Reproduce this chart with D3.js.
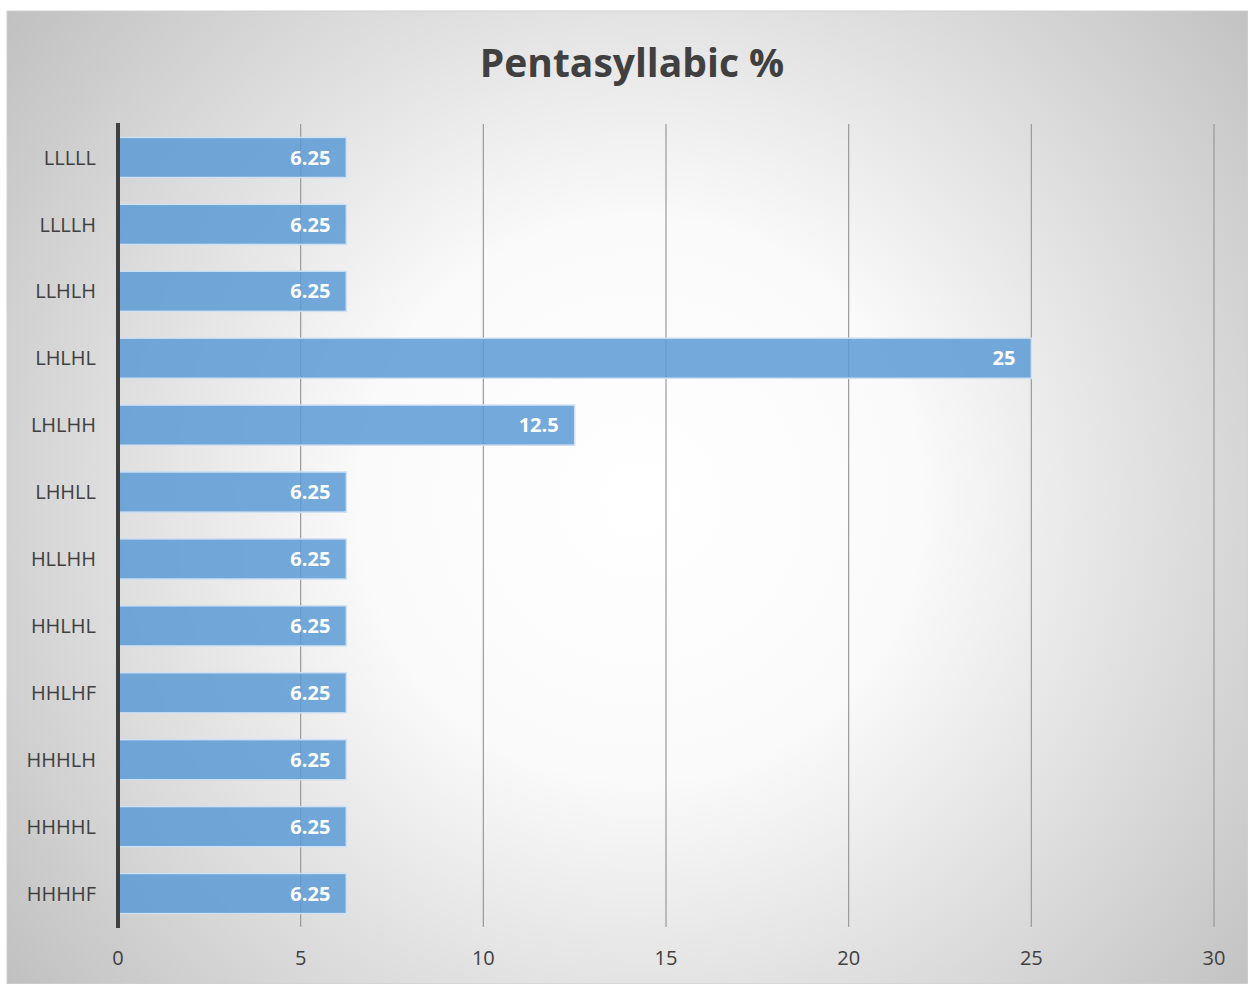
<!DOCTYPE html>
<html><head><meta charset="utf-8">
<script src="https://cdn.jsdelivr.net/npm/d3@7"></script>
<style>body{margin:0;background:#fff}svg{display:block}</style>
</head><body>
<script>
const categories = ["LLLLL","LLLLH","LLHLH","LHLHL","LHLHH","LHHLL","HLLHH","HHLHL","HHLHF","HHHLH","HHHHL","HHHHF"];
const values = [6.25,6.25,6.25,25,12.5,6.25,6.25,6.25,6.25,6.25,6.25,6.25];
const xTicks = [0,5,10,15,20,25,30];
const chartTitle = "Pentasyllabic %";

(function(){
const W = 1248, H = 984;
const svg = d3.select("body").append("svg").attr("width", W).attr("height", H);
const defs = svg.append("defs");
const rg = defs.append("radialGradient").attr("id","bg")
  .attr("gradientUnits","userSpaceOnUse").attr("cx",640).attr("cy",500).attr("r",800);
rg.append("stop").attr("offset","0%").attr("stop-color","#ffffff");
rg.append("stop").attr("offset","35%").attr("stop-color","#fafafa");
rg.append("stop").attr("offset","100%").attr("stop-color","#c0c0c0");

svg.append("rect").attr("x",7).attr("y",11).attr("width",W-7).attr("height",H-11)
  .attr("fill","url(#bg)").attr("stroke","#d0d0d0").attr("stroke-width",1);

const font = "'Open Sans', 'Noto Sans', sans-serif";
svg.append("text").attr("x",632).attr("y",77).attr("text-anchor","middle")
  .attr("font-family",font).attr("font-weight",700).attr("font-size",39)
  .attr("fill","#404040").text(chartTitle);

const pL = 118, pR = 1214, pT = 124, pB = 927;
const x = d3.scaleLinear().domain([0,30]).range([pL,pR]);
const y = d3.scaleBand().domain(categories).range([pT,pB]).paddingInner(0.4).paddingOuter(0.2);

svg.append("g").selectAll("line").data(xTicks.filter(d=>d>0)).join("line")
  .attr("x1",d=>x(d)).attr("x2",d=>x(d)).attr("y1",pT).attr("y2",pB)
  .attr("stroke","#999999").attr("stroke-width",1.2);

svg.append("g").selectAll("rect").data(values).join("rect")
  .attr("x",x(0)).attr("y",(d,i)=>y(categories[i]))
  .attr("width",d=>x(d)-x(0)).attr("height",y.bandwidth())
  .attr("fill","#5b9bd5").attr("fill-opacity",0.85)
  .attr("stroke","#cfe0f2").attr("stroke-width",1.5);

svg.append("g").selectAll("text").data(values).join("text")
  .attr("x",d=>x(d)-16).attr("y",(d,i)=>y(categories[i])+y.bandwidth()/2)
  .attr("dy","0.36em").attr("text-anchor","end")
  .attr("font-family",font).attr("font-weight",700).attr("font-size",20)
  .attr("fill","#ffffff").text(d=>d);

svg.append("line").attr("x1",x(0)).attr("x2",x(0)).attr("y1",pT-1).attr("y2",pB+1)
  .attr("stroke","#404040").attr("stroke-width",4);

svg.append("g").selectAll("text").data(categories).join("text")
  .attr("x",96).attr("y",d=>y(d)+y.bandwidth()/2).attr("dy","0.36em")
  .attr("text-anchor","end").attr("font-family",font).attr("font-size",20)
  .attr("fill","#404040").text(d=>d);

svg.append("g").selectAll("text").data(xTicks).join("text")
  .attr("x",d=>x(d)).attr("y",958).attr("dy","0.36em").attr("text-anchor","middle")
  .attr("font-family",font).attr("font-size",20).attr("fill","#404040").text(d=>d);
})();
</script>
</body></html>
